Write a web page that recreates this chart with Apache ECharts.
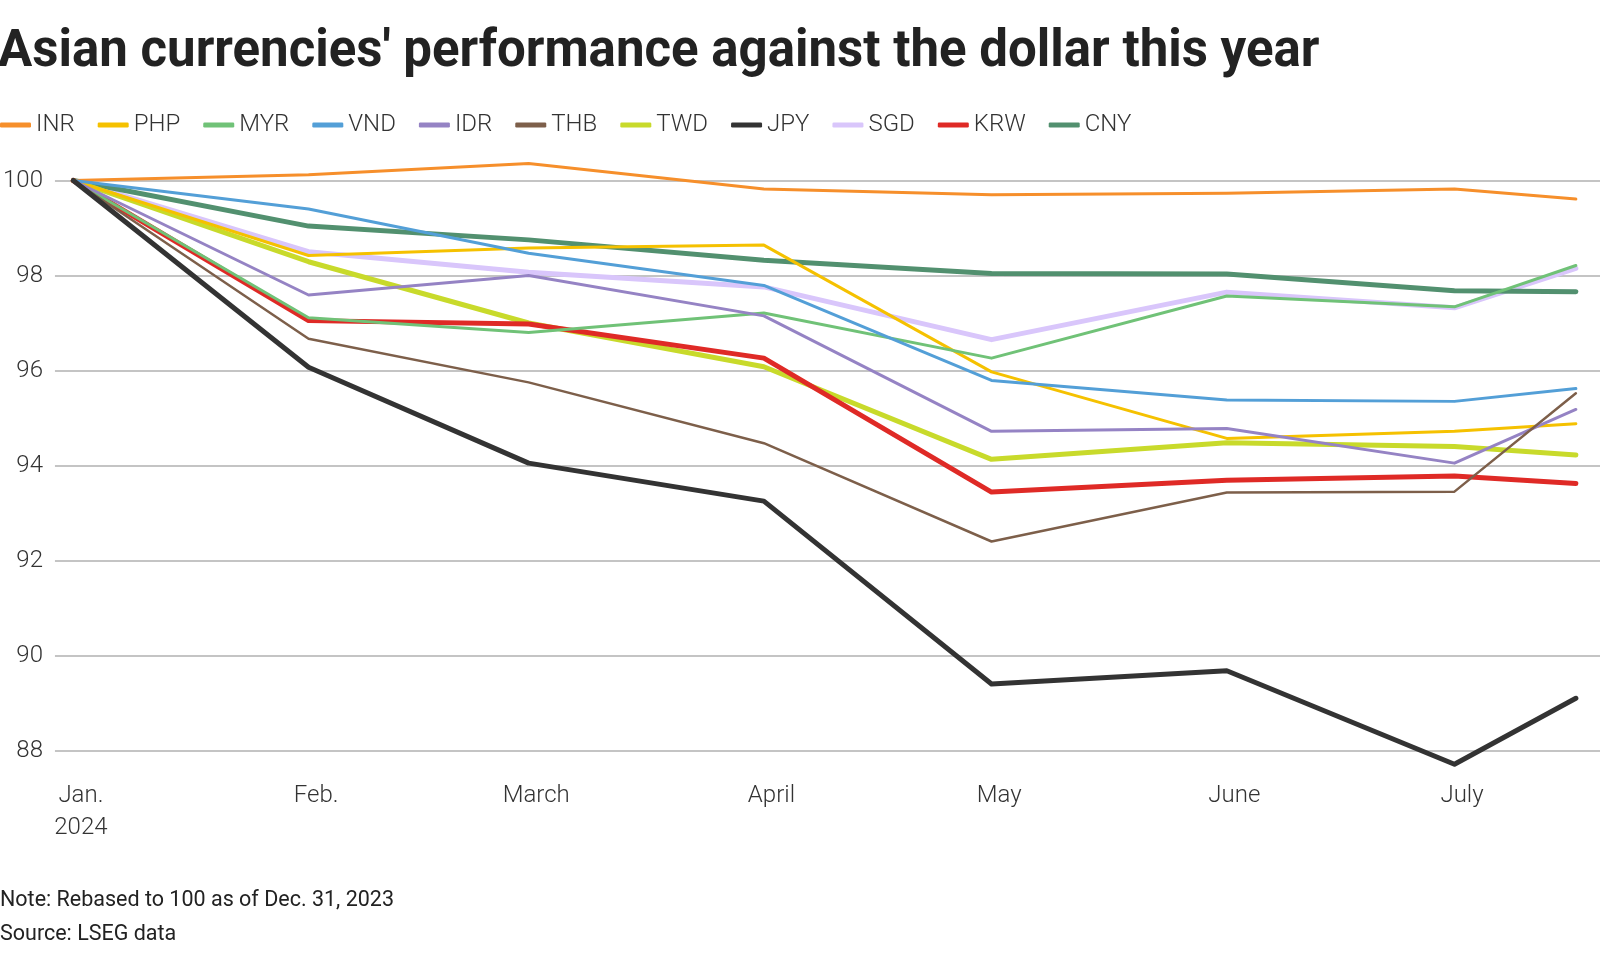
<!DOCTYPE html>
<html>
<head>
<meta charset="utf-8">
<script src="https://cdn.jsdelivr.net/npm/echarts@6/dist/echarts.min.js"></script>
<style>
html,body{margin:0;padding:0;background:#fff;}
#c{width:1600px;height:954px;}
</style>
</head>
<body>
<div id="c"></div>
<script>
// ---- data ----
const dates = ['2023-12-31','2024-01-31','2024-02-29','2024-03-31','2024-04-30','2024-05-31','2024-06-30','2024-07-16'];
const INR = [100, 100.12, 100.36, 99.82, 99.70, 99.73, 99.82, 99.61];
const PHP = [100, 98.42, 98.58, 98.64, 95.97, 94.57, 94.72, 94.88];
const MYR = [100, 97.11, 96.80, 97.21, 96.26, 97.57, 97.34, 98.21];
const VND = [100, 99.40, 98.47, 97.79, 95.79, 95.38, 95.35, 95.62];
const IDR = [100, 97.59, 98.00, 97.15, 94.72, 94.78, 94.05, 95.18];
const THB = [100, 96.67, 95.75, 94.47, 92.40, 93.43, 93.45, 95.52];
const TWD = [100, 98.29, 97.00, 96.08, 94.13, 94.48, 94.40, 94.22];
const JPY = [100, 96.07, 94.05, 93.25, 89.40, 89.68, 87.71, 89.10];
const SGD = [100, 98.50, 98.07, 97.76, 96.65, 97.65, 97.32, 98.15];
const KRW = [100, 97.05, 96.98, 96.26, 93.44, 93.69, 93.78, 93.62];
const CNY = [100, 99.04, 98.75, 98.32, 98.04, 98.03, 97.68, 97.66];

const legendOrder = ['INR','PHP','MYR','VND','IDR','THB','TWD','JPY','SGD','KRW','CNY'];
const monthTicks = ['2024-01-01','2024-02-01','2024-03-01','2024-04-01','2024-05-01','2024-06-01','2024-07-01'];
const monthLabels = ['Jan.\n2024','Feb.','March','April','May','June','July'];

function ts(s){ const p = s.split('-').map(Number); return Date.UTC(p[0], p[1]-1, p[2]); }
const DAY = 864e5;

const seriesDefs = [
  // drawing order (bottom to top)
  {name:'SGD', data:SGD, color:'#d9c6fb', w:5},
  {name:'CNY', data:CNY, color:'#52906f', w:5},
  {name:'TWD', data:TWD, color:'#c8da2b', w:5},
  {name:'KRW', data:KRW, color:'#df2a26', w:5},
  {name:'INR', data:INR, color:'#f68f2b', w:3},
  {name:'PHP', data:PHP, color:'#f5c100', w:3},
  {name:'MYR', data:MYR, color:'#70c277', w:3},
  {name:'VND', data:VND, color:'#539fd7', w:3},
  {name:'IDR', data:IDR, color:'#9583c4', w:3},
  {name:'THB', data:THB, color:'#7d5f4a', w:2.5},
  {name:'JPY', data:JPY, color:'#333333', w:5}
];

const FONT = 'Roboto, "Noto Sans", sans-serif';
const xMin = ts('2023-12-31') - 2.42*DAY;
const xMax = xMin + 203.6*DAY;

const chart = echarts.init(document.getElementById('c'), null, {renderer:'canvas'});
chart.setOption({
  animation:false,
  backgroundColor:'#fff',
  title:[
    {text:"Asian currencies' performance against the dollar this year", left:-2, top:28, padding:0,
     textStyle:{fontFamily:FONT, fontWeight:'bold', fontSize:51, color:'#222222'}},
    {text:'Note: Rebased to 100 as of Dec. 31, 2023\nSource: LSEG data', left:0, top:884, padding:0,
     textStyle:{fontFamily:FONT, fontWeight:'normal', fontSize:21.5, lineHeight:34, color:'#222222'}}
  ],
  legend:{
    data:legendOrder, left:0, top:113, padding:0, itemWidth:31, itemHeight:5, itemGap:23, icon:'roundRect',
    selectedMode:false,
    textStyle:{fontFamily:FONT, fontWeight:300, fontSize:24, color:'#333333'}
  },
  grid:{left:53, right:0, top:180.5, bottom:203.5, containLabel:false},
  xAxis:{
    type:'value', min:xMin, max:xMax,
    axisLine:{show:false}, axisTick:{show:false}, splitLine:{show:false},
    axisLabel:{
      customValues: monthTicks.map(ts),
      formatter:function(v){ const d=new Date(v); return monthLabels[d.getUTCMonth()]; },
      fontFamily:FONT, fontWeight:300, fontSize:24, color:'#333333', lineHeight:32, margin:29,
      hideOverlap:false
    }
  },
  yAxis:{
    type:'value', min:88, max:100, interval:2,
    axisLine:{show:false}, axisTick:{show:false},
    splitLine:{show:true, lineStyle:{color:'#c4c4c4', width:2}},
    axisLabel:{fontFamily:FONT, fontWeight:300, fontSize:24, color:'#333333', margin:12}
  },
  series: seriesDefs.map(s => ({
    name:s.name, type:'line', showSymbol:false, symbol:'none', clip:false, silent:true,
    color:s.color,
    data: dates.map((d,i)=>[ts(d), s.data[i]]),
    lineStyle:{color:s.color, width:s.w, cap:'round', join:'round'},
    emphasis:{disabled:true}
  }))
});
</script>
</body>
</html>
